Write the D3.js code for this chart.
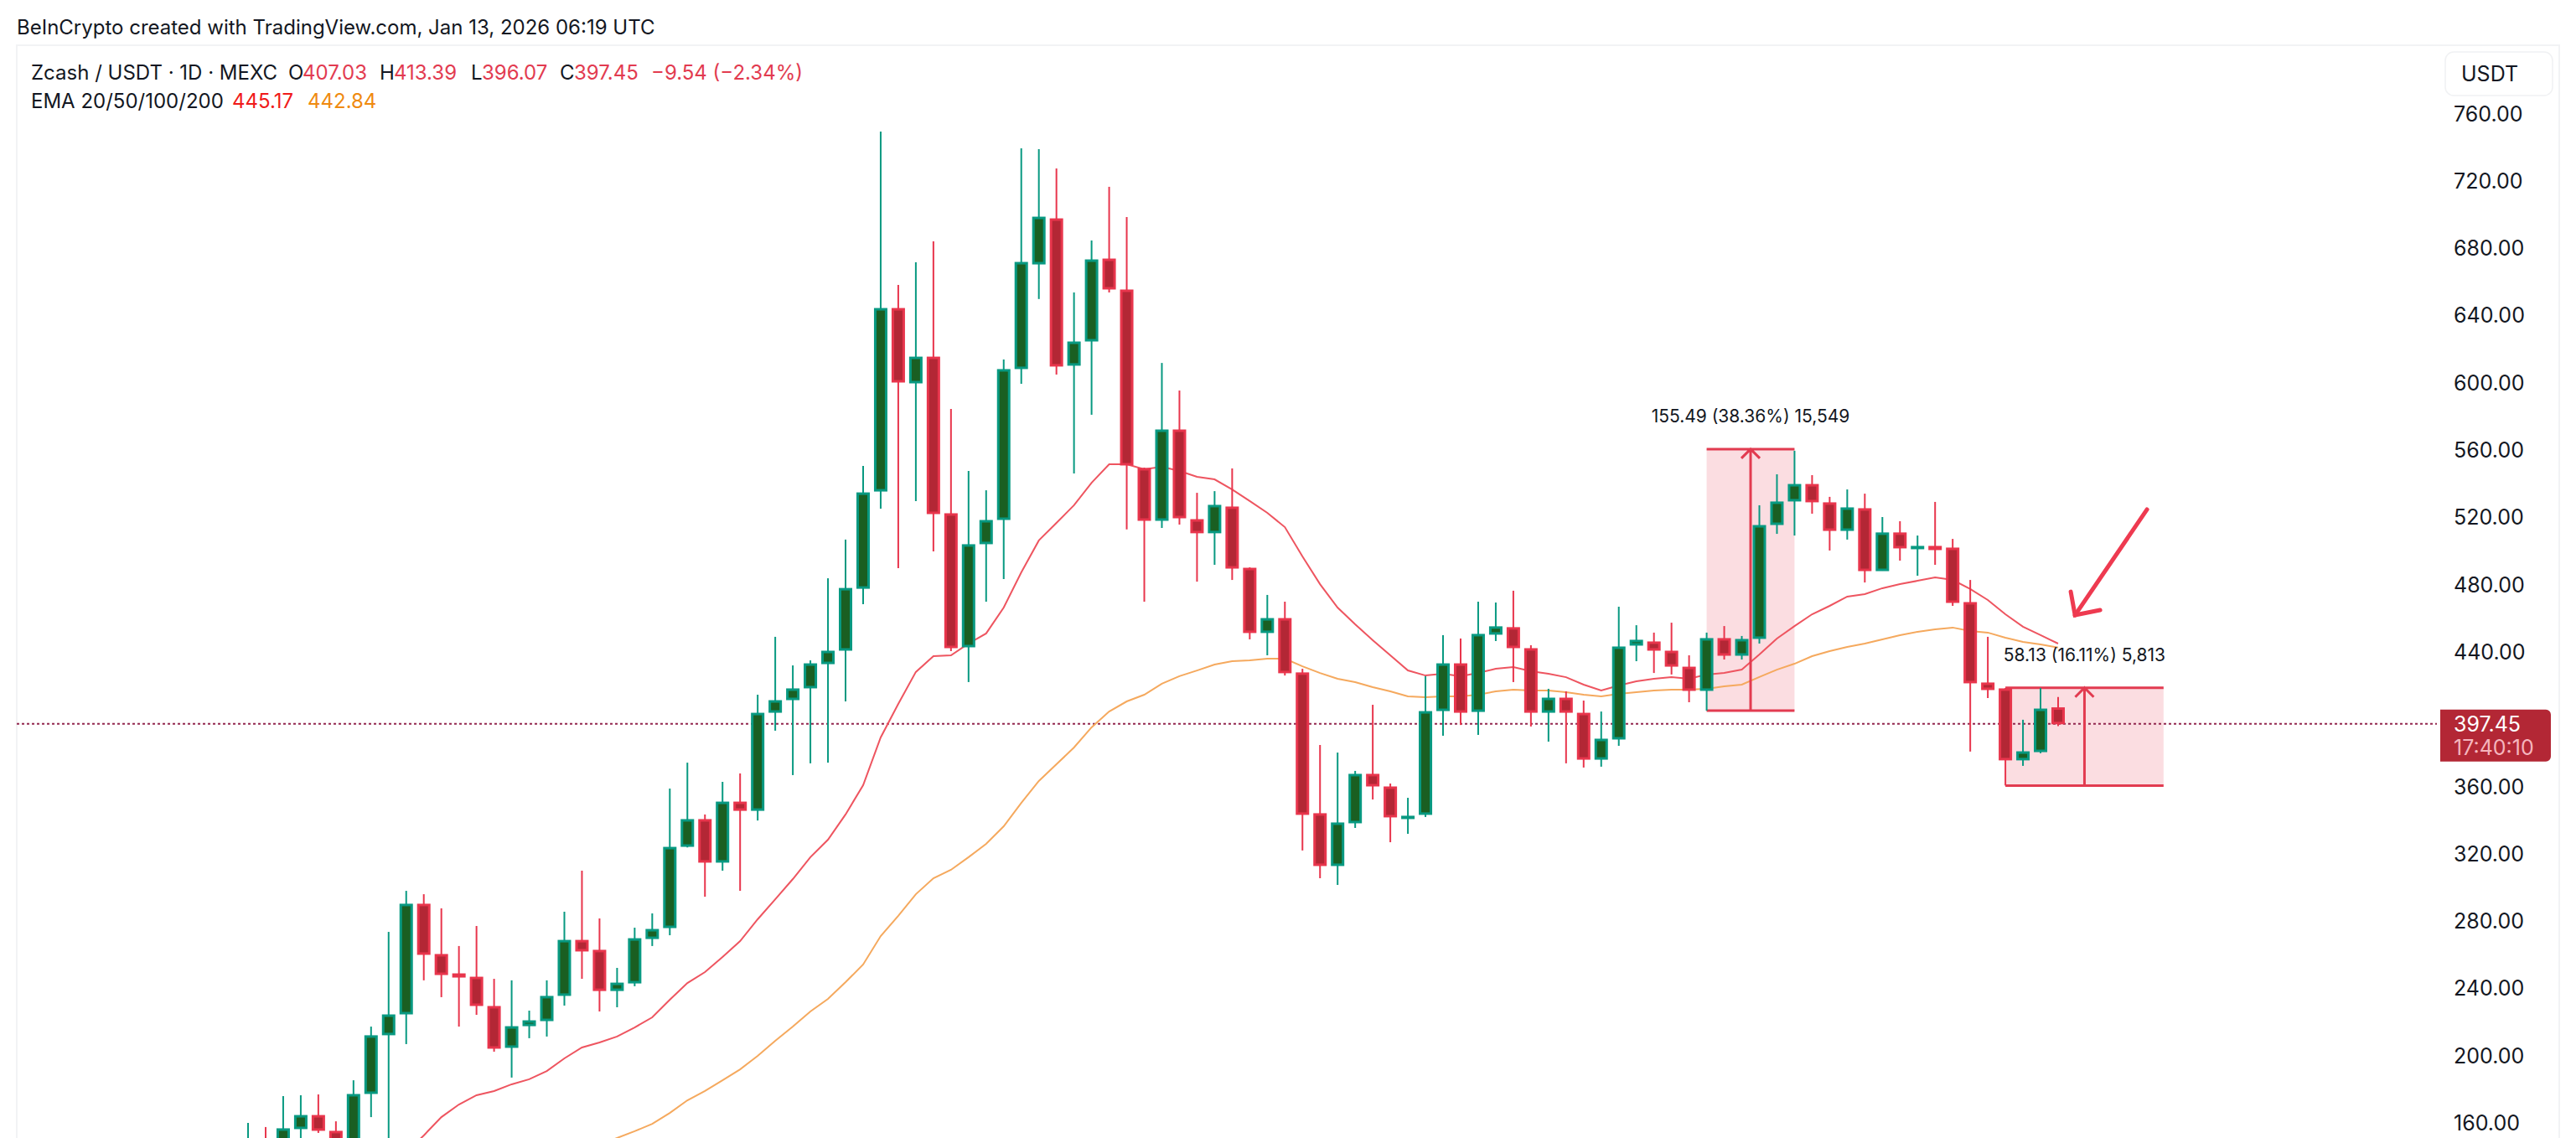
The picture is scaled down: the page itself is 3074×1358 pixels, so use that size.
<!DOCTYPE html>
<html>
<head>
<meta charset="utf-8">
<title>Zcash / USDT</title>
<script src="https://cdn.jsdelivr.net/npm/d3@7"></script>
<style>
  html, body { margin: 0; padding: 0; background: #fff; overflow: hidden; }
  text { font-family: Inter, "Noto Sans", sans-serif; }
</style>
</head>
<body>
<div id="chart"></div>
<script>
var opens = [135,148,140,156.8,164.7,155.3,140,177.7,212.6,225,290.3,260.4,248.9,246.9,229.5,205.1,218,221,236,268.8,
  262.9,238.9,243.4,269.8,276.3,324.6,340.6,315.2,351,346,404.3,411.8,418.8,433.2,441.2,478,535.8,644.4,600.1,615.5,
  522.4,443.2,504.5,518.9,608.6,670.8,697.7,610.6,625,673.8,655.4,549.3,518.4,572.2,518.9,511,526.4,490,451.7,460.1,
  427.8,344.1,313.2,338.6,367.5,360,342.1,343.6,405.3,433.2,404.8,450.7,454.7,442.2,404.3,412.8,403.8,376.4,388.4,444.2,
  446.2,440.7,431.2,417.3,448.2,438.2,448.2,515.9,529.9,539.8,528.9,512.4,525.4,488.5,511,501.5,503,502,469.6,421.8,
  418.3,376,380.9,407.03];
var highs = [160.2,157.8,176.2,176.7,177.2,161.2,185.6,217.5,273.8,298.2,296.2,287.8,265.4,277.3,245.9,245,227,245,285.8,310.2,
  281.8,252.4,276.3,284.8,359,374.4,343.6,363,368,414.8,449.2,432.2,435.2,484,507,550.8,749.5,658.4,671.8,684.3,
  584.7,547.8,536.3,614,739.6,739.1,727.6,653.9,684.8,716.7,698.7,549.8,612,595.6,534.8,535.8,549.3,490.5,474.1,470.1,
  430.2,384.9,380.4,369.5,408.8,362,353.5,425.8,450.2,448.2,470.1,469.6,476.6,444.2,418.3,416.8,411.3,404.8,467.1,456.1,
  451.7,457.6,438.2,451.7,455.6,449.7,527.4,545.8,559.8,545.3,532.4,536.8,534.3,520.4,517.9,509.4,529.4,507.4,483,449.2,
  418.8,399.9,418.8,413.39];
var lows = [128,132,134,148,154.3,132,130,163.7,150,207.1,245,235,217.5,224.5,202.6,187.2,210.6,211.6,230,245.9,
  226.5,229,241.5,265.4,271.8,324,294.7,310.2,298.2,340,393.4,367,374,374.4,410.8,468.6,525.4,490,529.9,500,
  440.7,422.3,470.1,483.5,599.6,650,605.1,546.3,581.2,653.9,513,470.1,513.9,515.9,482,492,483,447.7,438.2,426.2,
  322.2,305.7,301.7,335.6,352.5,327.1,332.1,342.1,390.4,396.8,390.9,446.7,422.3,395.9,386.9,374,371.5,372,384.4,434.7,
  427.7,426.8,410.3,405.3,435.7,435.7,445.2,510.4,509.4,522.4,500.5,507,481.5,488.5,494.5,485.5,492,467.6,381,412.8,
  360.8,372.5,380,396.07];
var closes = [148,140,156.8,164.7,155.8,140,177.2,212.1,224.5,290.3,260.4,248.4,246.9,230,204.6,217.5,221,235.5,268.8,262.4,
  238.9,243.4,269.8,275.3,324.1,340.6,315.2,351,346,403.8,411.3,418.3,433.2,440.7,478,534.8,644.4,600.6,615.5,522.4,
  442.7,504,518.4,608.1,671.8,698.7,610.1,624.5,673.3,655.9,551.3,518.4,572.2,519.9,511,527.4,490,451.7,460.1,427.8,
  343.6,313.2,338.6,367.5,360.5,342.1,342.6,404.8,433.2,404.3,450.7,455.2,442.7,404.3,412.8,404.3,376.4,388.4,443.2,447.2,
  441.2,431.7,417.3,448.2,438.2,447.7,515.4,529.4,539.8,529.4,512.4,525.9,488.5,511,502,503,501,469.6,421.8,417.8,
  376,380.9,406.3,397.45];

var ema20 = [null,null,null,null,null,null,null,null,null,142.8,152.8,163.7,171.2,176.7,179.2,183.2,186.2,191.1,198.6,205.1,
  208.1,211.6,217,223,233.5,243.4,249.9,258.9,268.3,281.3,293.2,305.2,318.2,328.6,343.6,361,389.4,409.3,428.3,437.7,
  438.2,445.2,451.2,466.6,487.5,506.5,516.9,527.4,540.8,551.8,551.8,548.8,550.3,547.8,544.3,542.8,536.8,529.9,522.9,514.4,
  497,480.5,466.6,456.6,447.2,438.2,429.2,426.2,427.2,425.8,427.7,430.2,431.2,428.7,427.2,425.2,420.8,417.3,420.3,422.8,
  424.3,425.2,424.3,426.8,427.7,429.7,438.7,448.2,455.6,462.6,467.6,473.1,474.6,478.1,480.5,482.5,484.5,483,477.6,471.1,
  462.6,455.2,450.2,445.17];
var ema50 = [null,null,null,null,null,null,null,null,null,null,null,null,null,null,null,null,null,null,null,null,
  147.3,151.3,155.3,159.7,166.2,173.7,179.2,185.6,192.1,200.1,209.1,217.5,226.5,234,243.9,254.4,271.3,283.3,296.2,305.7,
  310.7,318.2,326.1,336.6,350.5,363.5,373.4,383.4,395.4,404.8,410.8,414.8,421.3,425.8,429.2,432.7,434.7,435.2,436.2,436.2,
  431.7,427.7,424.3,422.3,419.3,416.8,413.8,413.3,413.8,413.8,414.8,416.8,417.8,417.3,417.3,416.3,414.8,413.8,415.3,416.3,
  417.3,417.8,417.8,418.3,419.8,420.8,425.3,429.7,433.2,437.7,440.7,443.2,445.2,447.7,450.2,452.2,453.7,454.7,452.7,451.7,
  448.7,446.2,444.7,442.84];

var priceTicks = [760,720,680,640,600,560,520,480,440,400,360,320,280,240,200,160];
var lastPrice = 397.45;

// price range tool boxes, in bar index and price
var measureFrom = [83, 100];
var measureTo = [88, 109];
var measureLow = [405.3, 360.8];
var measureHigh = [560.8, 418.93];
var measureText = ["155.49 (38.36%) 15,549", "58.13 (16.11%) 5,813"];

// hand drawn arrow, [bar index, price]
var arrowShaft = [[108.06,524.9],[103.96,462.1]];
var arrowHead = [[103.72,476],[103.96,462.1],[105.39,465.1]];

function init(){

    var w = 3074;
    var h = 1358;

    var green = "#089981", greenFill = "#1a5f22";
    var red = "#e8354c", redFill = "#b32735";

    var svg = d3.select("#chart")
                .append("svg")
                .attr("width", w)
                .attr("height", h)
                .style("display", "block");

    var x = d3.scaleLinear().domain([0, 103]).range([296, 2456]);
    var y = d3.scaleLinear().domain([760, 160]).range([136, 1340.5]);

    // frame
    svg.append("path")
       .attr("d", "M20," + h + "V54H3054V" + h)
       .attr("fill", "none")
       .attr("stroke", "#f2f3f5")
       .attr("stroke-width", 2);

    svg.append("text")
       .attr("x", 20).attr("y", 41)
       .attr("font-size", 24).attr("fill", "#131722")
       .text("BeInCrypto created with TradingView.com, Jan 13, 2026 06:19 UTC");

    // legend, two rows
    var legend = [
      {x:37, y:95, t:"Zcash / USDT · 1D · MEXC", c:"#131722"},
      {x:344, y:95, t:"O", c:"#131722"},
      {x:361, y:95, t:"407.03", c:"#e23b50"},
      {x:453, y:95, t:"H", c:"#131722"},
      {x:470, y:95, t:"413.39", c:"#e23b50"},
      {x:562, y:95, t:"L", c:"#131722"},
      {x:575, y:95, t:"396.07", c:"#e23b50"},
      {x:668, y:95, t:"C", c:"#131722"},
      {x:685, y:95, t:"397.45", c:"#e23b50"},
      {x:777, y:95, t:"−9.54 (−2.34%)", c:"#e23b50"},
      {x:37, y:129, t:"EMA 20/50/100/200", c:"#131722"},
      {x:277, y:129, t:"445.17", c:"#f01a1a"},
      {x:367, y:129, t:"442.84", c:"#ef8a10"}
    ];
    svg.selectAll("text.legend")
       .data(legend)
       .enter()
       .append("text")
       .attr("class", "legend")
       .attr("x", function(d){ return d.x; })
       .attr("y", function(d){ return d.y; })
       .attr("font-size", 24)
       .attr("fill", function(d){ return d.c; })
       .text(function(d){ return d.t; });

    // measure fills sit under everything
    var idx = d3.range(measureFrom.length);

    svg.selectAll("rect.measure")
       .data(idx)
       .enter()
       .append("rect")
       .attr("class", "measure")
       .attr("x", function(i){ return x(measureFrom[i]); })
       .attr("y", function(i){ return y(measureHigh[i]); })
       .attr("width", function(i){ return x(measureTo[i]) - x(measureFrom[i]); })
       .attr("height", function(i){ return y(measureLow[i]) - y(measureHigh[i]); })
       .attr("fill", "#fbdde1");

    // last price line
    svg.append("line")
       .attr("x1", 20).attr("x2", 2908)
       .attr("y1", y(lastPrice)).attr("y2", y(lastPrice))
       .attr("stroke", "#93284f")
       .attr("stroke-width", 2)
       .attr("stroke-dasharray", "3 3");

    var line = d3.line()
                 .defined(function(d){ return d != null; })
                 .x(function(d, i){ return x(i); })
                 .y(function(d){ return y(d); });

    svg.append("path").attr("d", line(ema50))
       .attr("fill", "none").attr("stroke", "#f5a95e").attr("stroke-width", 2);
    svg.append("path").attr("d", line(ema20))
       .attr("fill", "none").attr("stroke", "#ee5560").attr("stroke-width", 2);

    // measure lines and arrows
    var mg = svg.selectAll("g.mline")
                .data(idx)
                .enter()
                .append("g")
                .attr("class", "mline")
                .attr("fill", "none")
                .attr("stroke", "#e23b50")
                .attr("stroke-width", 3);

    mg.append("path")
      .attr("d", function(i){
          var x0 = x(measureFrom[i]), x1 = x(measureTo[i]), xm = (x0 + x1) / 2;
          var yb = y(measureLow[i]), yt = y(measureHigh[i]);
          return "M" + x0 + "," + yt + "H" + x1 +
                 "M" + x0 + "," + yb + "H" + x1 +
                 "M" + xm + "," + yb + "V" + yt +
                 "M" + (xm - 11) + "," + (yt + 11) + "L" + xm + "," + yt + "L" + (xm + 11) + "," + (yt + 11);
      });

    svg.selectAll("text.mtext")
       .data(idx)
       .enter()
       .append("text")
       .attr("class", "mtext")
       .attr("x", function(i){ return (x(measureFrom[i]) + x(measureTo[i])) / 2; })
       .attr("y", function(i){ return y(measureHigh[i]) - 32; })
       .attr("text-anchor", "middle")
       .attr("font-size", 21)
       .attr("fill", "#131722")
       .text(function(i){ return measureText[i]; });

    // candles
    var candles = svg.selectAll("g.candle")
                     .data(opens)
                     .enter()
                     .append("g")
                     .attr("class", "candle");

    function up(i){ return closes[i] >= opens[i]; }

    candles.append("line")
           .attr("x1", function(d, i){ return x(i); })
           .attr("x2", function(d, i){ return x(i); })
           .attr("y1", function(d, i){ return y(highs[i]); })
           .attr("y2", function(d, i){ return y(lows[i]); })
           .attr("stroke", function(d, i){ return up(i) ? green : red; })
           .attr("stroke-width", 2);

    candles.append("rect")
           .attr("x", function(d, i){ return x(i) - 6.5; })
           .attr("width", 13)
           .attr("y", function(d, i){ return y(Math.max(opens[i], closes[i])) + 1; })
           .attr("height", function(d, i){
               return Math.max(1, Math.abs(y(opens[i]) - y(closes[i])) - 2);
           })
           .attr("fill", function(d, i){ return up(i) ? greenFill : redFill; })
           .attr("stroke", function(d, i){ return up(i) ? green : red; })
           .attr("stroke-width", 3);

    // hand drawn arrow
    var arrowLine = d3.line()
                      .x(function(d){ return x(d[0]); })
                      .y(function(d){ return y(d[1]); });
    svg.selectAll("path.arrow")
       .data([arrowShaft, arrowHead])
       .enter()
       .append("path")
       .attr("class", "arrow")
       .attr("d", arrowLine)
       .attr("fill", "none")
       .attr("stroke", "#ee3a50")
       .attr("stroke-width", 5)
       .attr("stroke-linecap", "round");

    // price axis
    var axis = d3.axisRight(y)
                 .tickValues(priceTicks)
                 .tickSize(0)
                 .tickPadding(0)
                 .tickFormat(d3.format(".2f"));

    var ag = svg.append("g")
                .attr("transform", "translate(2928,0)")
                .call(axis);
    ag.select(".domain").remove();
    ag.selectAll("text")
      .attr("font-size", 25)
      .attr("font-family", "Inter")
      .attr("fill", "#131722");

    // USDT button
    svg.append("rect")
       .attr("x", 2918).attr("y", 62).attr("width", 128).attr("height", 52).attr("rx", 10)
       .attr("fill", "#fff").attr("stroke", "#f0f1f3").attr("stroke-width", 1.5);
    svg.append("text")
       .attr("x", 2937).attr("y", 97)
       .attr("font-size", 25).attr("fill", "#131722")
       .text("USDT");

    // last price tag
    svg.append("path")
       .attr("d", "M2912," + (y(lastPrice) - 17) + "H3038a6,6 0 0 1 6,6V" + (y(lastPrice) + 39) +
                  "a6,6 0 0 1 -6,6H2912Z")
       .attr("fill", "#b32735");
    svg.append("text")
       .attr("x", 2928).attr("y", y(lastPrice) + 9)
       .attr("font-size", 25).attr("fill", "#ffffff")
       .text(d3.format(".2f")(lastPrice));
    svg.append("text")
       .attr("x", 2928).attr("y", y(lastPrice) + 37)
       .attr("font-size", 25).attr("fill", "#f5b5bd")
       .text("17:40:10");
}

window.onload = init;
</script>
</body>
</html>
